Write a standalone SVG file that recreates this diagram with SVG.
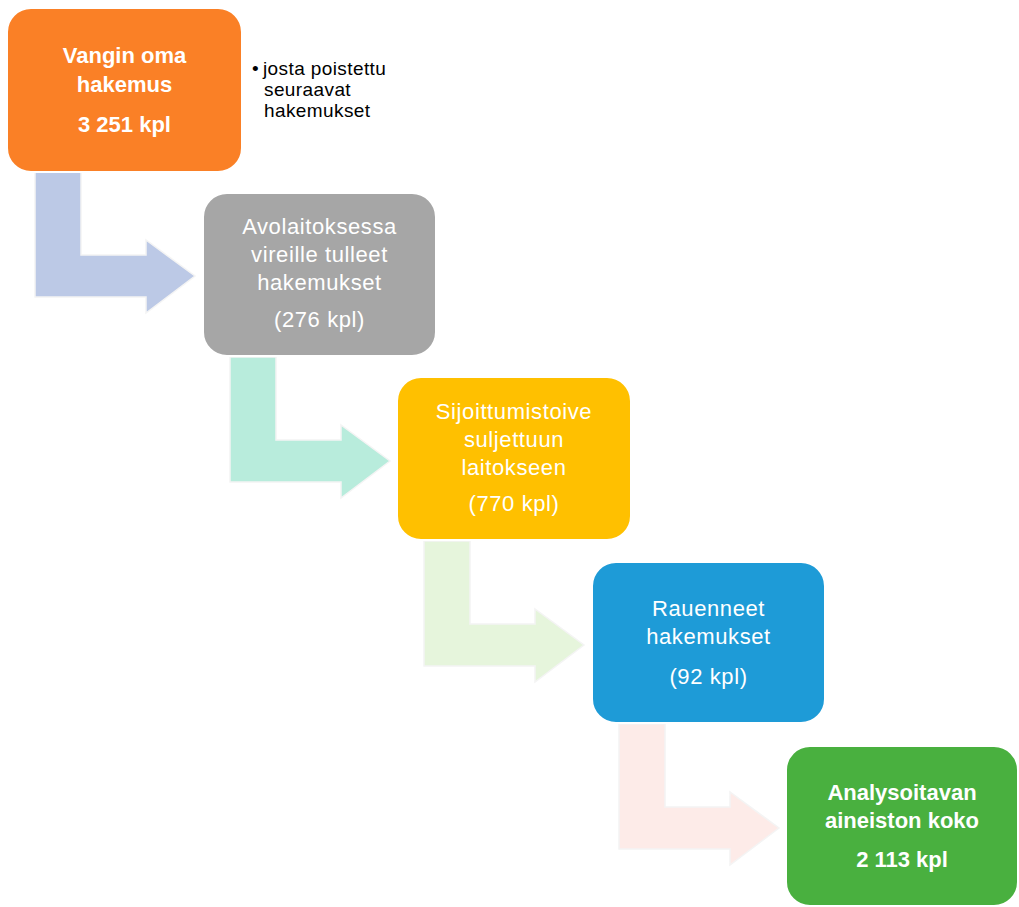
<svg xmlns="http://www.w3.org/2000/svg" width="1019" height="907" viewBox="0 0 1019 907">
<defs>
<style>
.box{stroke:#ffffff;stroke-width:2}
.arr{stroke:#f4f4f4;stroke-width:1.5;stroke-linejoin:miter}
.t{font-family:"Liberation Sans",Arial,sans-serif;font-size:22px;fill:#ffffff;text-anchor:middle;letter-spacing:0.6px}
.b{font-weight:bold;letter-spacing:0}
.side{font-family:"Liberation Sans",Arial,sans-serif;font-size:19px;fill:#000000;letter-spacing:0.4px}
</style>
<path id="bent" d="M0,0 H46 V83 H111 V68 L160,104 L111,141 V125 H0 Z"/>
</defs>
<rect width="1019" height="907" fill="#ffffff"/>
<g id="connectors">
<use href="#bent" class="arr" fill="#bcc9e6" transform="translate(35,172)"/>
<use href="#bent" class="arr" fill="#b8ecdc" transform="translate(230,357)"/>
<use href="#bent" class="arr" fill="#e6f5dc" transform="translate(424,541)"/>
<use href="#bent" class="arr" fill="#fdebe8" transform="translate(619,724)"/>
</g>
<g id="node1">
<rect class="box" x="7" y="8" width="235" height="164" rx="24" fill="#fa8026"/>
<text class="t b" x="124.5" y="63">Vangin oma</text>
<text class="t b" x="124.5" y="92">hakemus</text>
<text class="t b" x="124.5" y="132">3 251 kpl</text>
</g>
<g id="note">
<text class="side" x="252" y="75">•</text>
<text class="side" x="263" y="75">josta poistettu</text>
<text class="side" x="264" y="96">seuraavat</text>
<text class="side" x="264" y="117">hakemukset</text>
</g>
<g id="node2">
<rect class="box" x="203" y="193" width="233" height="163" rx="24" fill="#a6a6a6"/>
<text class="t" x="319.5" y="234">Avolaitoksessa</text>
<text class="t" x="319.5" y="262">vireille tulleet</text>
<text class="t" x="319.5" y="290">hakemukset</text>
<text class="t" x="319.5" y="327">(276 kpl)</text>
</g>
<g id="node3">
<rect class="box" x="397" y="377" width="234" height="163" rx="24" fill="#ffc000"/>
<text class="t" x="514" y="419">Sijoittumistoive</text>
<text class="t" x="514" y="447">suljettuun</text>
<text class="t" x="514" y="475">laitokseen</text>
<text class="t" x="514" y="511">(770 kpl)</text>
</g>
<g id="node4">
<rect class="box" x="592" y="562" width="233" height="161" rx="24" fill="#1e9bd7"/>
<text class="t" x="708.5" y="616">Rauenneet</text>
<text class="t" x="708.5" y="644">hakemukset</text>
<text class="t" x="708.5" y="684">(92 kpl)</text>
</g>
<g id="node5">
<rect class="box" x="786" y="746" width="232" height="160" rx="24" fill="#49b03f"/>
<text class="t b" x="902" y="800">Analysoitavan</text>
<text class="t b" x="902" y="828">aineiston koko</text>
<text class="t b" x="902" y="867">2 113 kpl</text>
</g>
</svg>
